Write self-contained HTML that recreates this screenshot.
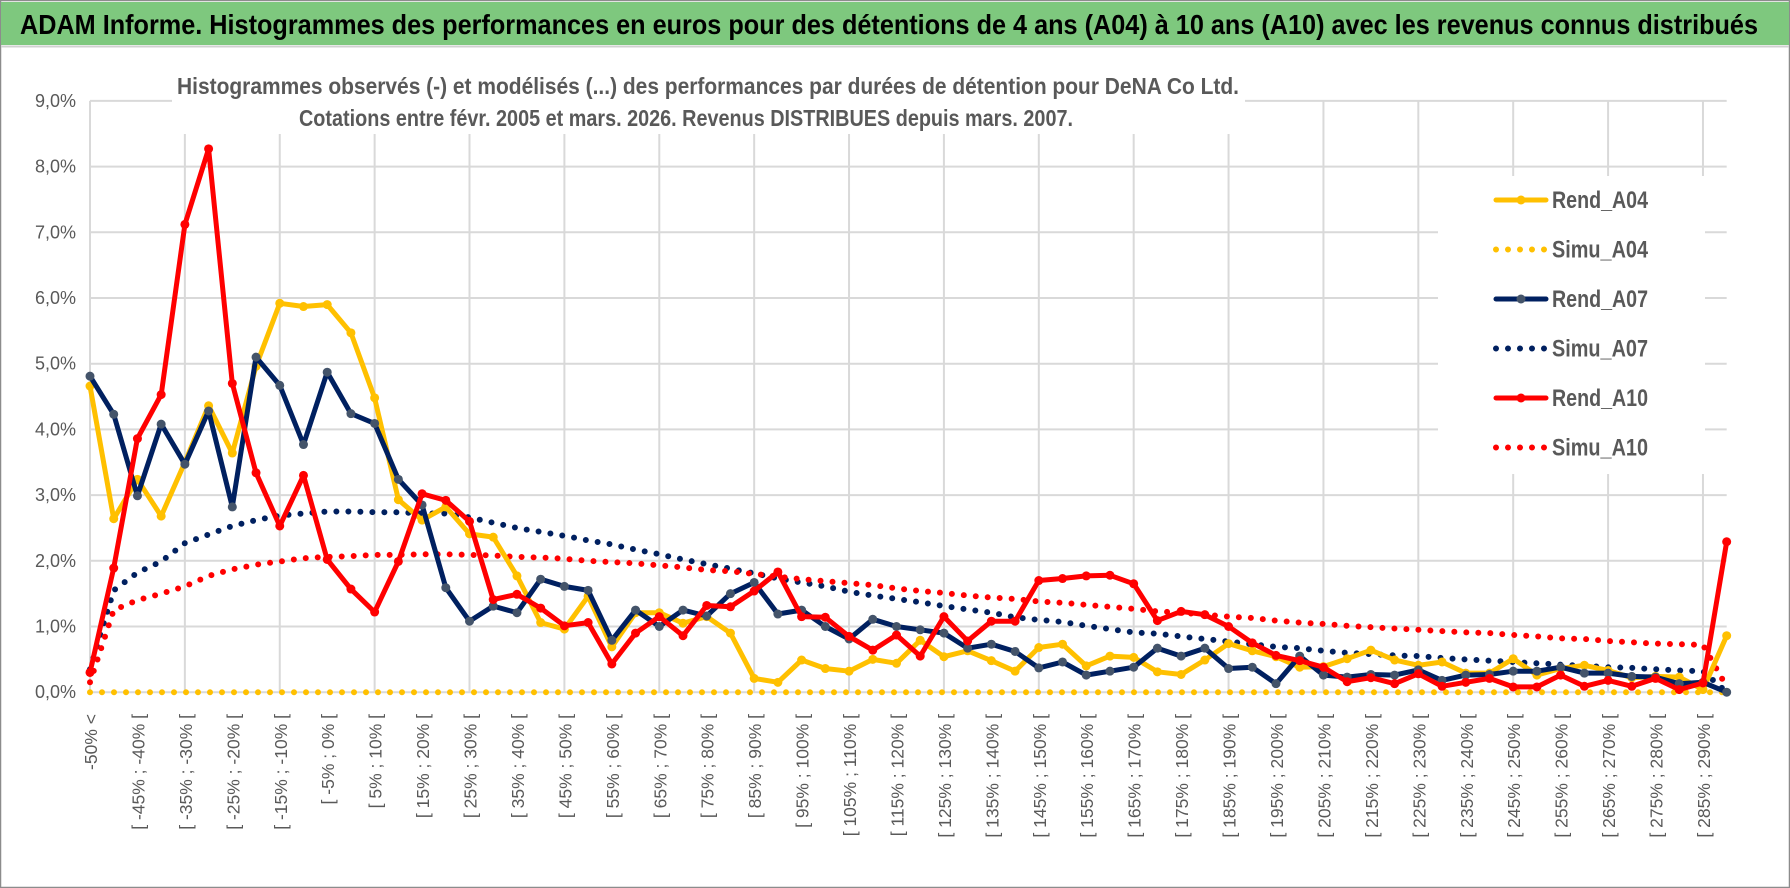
<!DOCTYPE html>
<html><head><meta charset="utf-8">
<style>
html,body{margin:0;padding:0;background:#fff;}
svg{display:block;}
text{font-family:"Liberation Sans Narrow","Liberation Sans",sans-serif;}
</style></head>
<body>
<svg id="chart" width="1790" height="888" viewBox="0 0 1790 888" xmlns="http://www.w3.org/2000/svg">
  <rect x="0" y="0" width="1790" height="888" fill="#fff"/>
  <rect x="0.5" y="0.5" width="1789" height="887" fill="none" stroke="#8c8c8c" stroke-width="1.5"/>
  <rect x="1" y="2" width="1788" height="43" fill="#7ec87e"/>
  <line x1="1" y1="46.5" x2="1789" y2="46.5" stroke="#d0d0d0" stroke-width="2"/>
  <text x="20" y="34" font-size="28" font-weight="bold" fill="#000" textLength="1738" lengthAdjust="spacingAndGlyphs">ADAM Informe. Histogrammes des performances en euros pour des détentions de 4 ans (A04) à 10 ans (A10) avec les revenus connus distribués</text>
  <g id="grid"></g>
  <g id="yticks"></g>
  <g id="xticks"></g>
  <rect x="172" y="58" width="1073" height="76" fill="#fff"/>
  <text x="177" y="94" font-size="23" font-weight="bold" fill="#595959" textLength="1062" lengthAdjust="spacingAndGlyphs">Histogrammes observés (-) et modélisés (...) des performances par durées de détention pour DeNA Co Ltd.</text>
  <text x="299" y="126" font-size="23" font-weight="bold" fill="#595959" textLength="774" lengthAdjust="spacingAndGlyphs">Cotations entre févr. 2005 et mars. 2026. Revenus DISTRIBUES depuis mars. 2007.</text>
  <g id="series"></g>
  <rect x="1438" y="176" width="267" height="298" fill="#fff"/>
  <g id="legend"></g>
</svg>
<script>
const categories = (function(){
  const c = ["-50% <"];
  for (let k = 1; k < 70; k++) { const a = -55 + 5*k; c.push("[ " + a + "% ; " + (a+5) + "% ["); }
  return c;
})();
const yTicks = [0,1,2,3,4,5,6,7,8,9];
const yTickLabels = ["0,0%","1,0%","2,0%","3,0%","4,0%","5,0%","6,0%","7,0%","8,0%","9,0%"];
const rendA04 = [4.66,2.64,3.24,2.68,3.5,4.36,3.64,4.96,5.92,5.87,5.90,5.47,4.48,2.93,2.62,2.82,2.41,2.36,1.77,1.06,0.96,1.46,0.69,1.21,1.21,1.05,1.15,0.90,0.21,0.15,0.49,0.36,0.32,0.50,0.44,0.79,0.54,0.63,0.48,0.32,0.68,0.73,0.40,0.55,0.53,0.31,0.27,0.49,0.74,0.63,0.54,0.38,0.39,0.51,0.64,0.49,0.41,0.46,0.29,0.29,0.51,0.26,0.36,0.41,0.33,0.22,0.24,0.23,0.04,0.86];
const simuA04 = [0,0,0,0,0,0,0,0,0,0,0,0,0,0,0,0,0,0,0,0,0,0,0,0,0,0,0,0,0,0,0,0,0,0,0,0,0,0,0,0,0,0,0,0,0,0,0,0,0,0,0,0,0,0,0,0,0,0,0,0,0,0,0,0,0,0,0,0,0,0];
const rendA07 = [4.81,4.23,2.99,4.08,3.47,4.28,2.82,5.10,4.67,3.77,4.87,4.24,4.09,3.24,2.85,1.59,1.08,1.31,1.21,1.72,1.61,1.55,0.79,1.25,1.00,1.25,1.16,1.50,1.67,1.19,1.25,1.00,0.81,1.11,1.00,0.95,0.90,0.67,0.73,0.62,0.37,0.46,0.26,0.32,0.38,0.67,0.55,0.67,0.36,0.38,0.13,0.55,0.26,0.23,0.27,0.26,0.34,0.18,0.26,0.27,0.32,0.32,0.38,0.29,0.29,0.24,0.23,0.13,0.15,0.0];
const simuA07 = [0.35,1.55,1.82,1.99,2.27,2.40,2.53,2.62,2.69,2.72,2.75,2.75,2.74,2.74,2.72,2.72,2.66,2.58,2.50,2.44,2.38,2.31,2.25,2.17,2.10,2.02,1.95,1.88,1.81,1.73,1.67,1.61,1.53,1.47,1.42,1.37,1.31,1.26,1.21,1.14,1.10,1.07,1.01,0.96,0.91,0.89,0.85,0.81,0.77,0.73,0.69,0.67,0.63,0.60,0.58,0.56,0.55,0.52,0.50,0.48,0.46,0.44,0.42,0.40,0.38,0.37,0.35,0.33,0.32,0.0];
const rendA10 = [0.30,1.89,3.86,4.53,7.12,8.27,4.70,3.34,2.53,3.30,2.02,1.57,1.22,1.99,3.02,2.92,2.60,1.41,1.49,1.28,1.01,1.06,0.43,0.90,1.15,0.86,1.32,1.30,1.54,1.83,1.15,1.14,0.85,0.64,0.87,0.55,1.15,0.78,1.08,1.08,1.70,1.73,1.77,1.78,1.65,1.09,1.23,1.18,1.00,0.75,0.56,0.48,0.38,0.16,0.22,0.13,0.28,0.09,0.15,0.21,0.08,0.08,0.26,0.09,0.18,0.09,0.21,0.04,0.14,2.29];
const simuA10 = [0.15,1.25,1.40,1.50,1.61,1.77,1.87,1.94,1.99,2.04,2.06,2.07,2.09,2.09,2.10,2.10,2.09,2.08,2.06,2.05,2.03,2.00,1.98,1.96,1.93,1.90,1.86,1.84,1.80,1.76,1.72,1.69,1.66,1.63,1.58,1.54,1.51,1.47,1.44,1.42,1.38,1.36,1.33,1.30,1.27,1.23,1.21,1.18,1.15,1.13,1.09,1.06,1.04,1.01,0.99,0.97,0.95,0.93,0.91,0.90,0.87,0.85,0.82,0.81,0.78,0.76,0.74,0.73,0.72,0.08];

const NS = "http://www.w3.org/2000/svg";
const X0 = 90, STEP = 23.72, Y0 = 692.2, YU = 65.7;
function xPos(i){ return X0 + STEP*i; }
function yPos(v){ return Y0 - YU*v; }
function mk(tag, attrs, parent){ const e = document.createElementNS(NS, tag); for (const k in attrs) e.setAttribute(k, attrs[k]); parent.appendChild(e); return e; }

const grid = document.getElementById('grid');
const xEnd = xPos(categories.length - 1);
yTicks.forEach(function(t){
  const l = mk('line', {x1: X0, x2: xEnd, y1: yPos(t), y2: yPos(t), stroke: '#d9d9d9', 'stroke-width': 2}, grid);
  
  
});
for (let i = 0; i < categories.length; i += 4) {
  const l = mk('line', {x1: xPos(i), x2: xPos(i), y1: yPos(9), y2: yPos(0), stroke: '#d9d9d9', 'stroke-width': 2}, grid);
  
  
}
const yt = document.getElementById('yticks');
yTicks.forEach(function(t, k){
  const e = mk('text', {x: 76, y: yPos(t) + 6, 'text-anchor': 'end', 'font-size': 18, fill: '#595959'}, yt);
  e.textContent = yTickLabels[k];
  
  
});
const xt = document.getElementById('xticks');
categories.forEach(function(c, i){
  if (i % 2 !== 0) return;
  const x = xPos(i) + 7, y = 714;
  const e = mk('text', {x: x, y: y, 'text-anchor': 'end', fill: '#595959', transform: 'rotate(-90 ' + x + ' ' + y + ')', style: 'font-family:"Liberation Sans",sans-serif;font-size:17.5px'}, xt);
  e.textContent = c;
  
  
});

const seriesLayer = document.getElementById('series');
function pts(arr){ return arr.map(function(v,i){ return xPos(i).toFixed(1) + ',' + yPos(v).toFixed(1); }).join(' '); }
function dotted(arr, color, name){
  const p = mk('polyline', {points: pts(arr), fill: 'none', stroke: color, 'stroke-width': 6, 'stroke-linecap': 'round', 'stroke-dasharray': '0 12'}, seriesLayer);
  
  
}
function solid(arr, color, mcolor, name){
  const g = mk('g', {}, seriesLayer);
  
  
  mk('polyline', {points: pts(arr), fill: 'none', stroke: color, 'stroke-width': 5, 'stroke-linejoin': 'round'}, g);
  arr.forEach(function(v, i){
    const c = mk('circle', {cx: xPos(i), cy: yPos(v), r: 4.5, fill: mcolor}, g);
    
    
  });
}
dotted(simuA04, '#ffc000', 'simu-a04-line');
dotted(simuA07, '#002060', 'simu-a07-line');
dotted(simuA10, '#ff0000', 'simu-a10-line');
solid(rendA04, '#ffc000', '#ffc000', 'rend-a04-line');
solid(rendA07, '#002060', '#44546a', 'rend-a07-line');
solid(rendA10, '#ff0000', '#ff0000', 'rend-a10-line');

const legendNames = ["Rend_A04","Simu_A04","Rend_A07","Simu_A07","Rend_A10","Simu_A10"];
const legendColors = ["#ffc000","#ffc000","#002060","#002060","#ff0000","#ff0000"];
const legendMarkers = ["#ffc000",null,"#44546a",null,"#ff0000",null];
const lg = document.getElementById('legend');
legendNames.forEach(function(n, k){
  const y = 200 + 49.5*k;
  const g = mk('g', {}, lg);
  
  
  if (legendMarkers[k]) {
    mk('line', {x1: 1496, x2: 1546, y1: y, y2: y, stroke: legendColors[k], 'stroke-width': 5, 'stroke-linecap': 'round'}, g);
    mk('circle', {cx: 1521, cy: y, r: 4.5, fill: legendMarkers[k]}, g);
  } else {
    mk('line', {x1: 1496, x2: 1546, y1: y, y2: y, stroke: legendColors[k], 'stroke-width': 6, 'stroke-linecap': 'round', 'stroke-dasharray': '0 12'}, g);
  }
  const t = mk('text', {x: 1552, y: y + 8, 'font-size': 24, 'font-weight': 'bold', fill: '#595959', textLength: 96, lengthAdjust: 'spacingAndGlyphs'}, g);
  t.textContent = n;
});
</script>
</body></html>
